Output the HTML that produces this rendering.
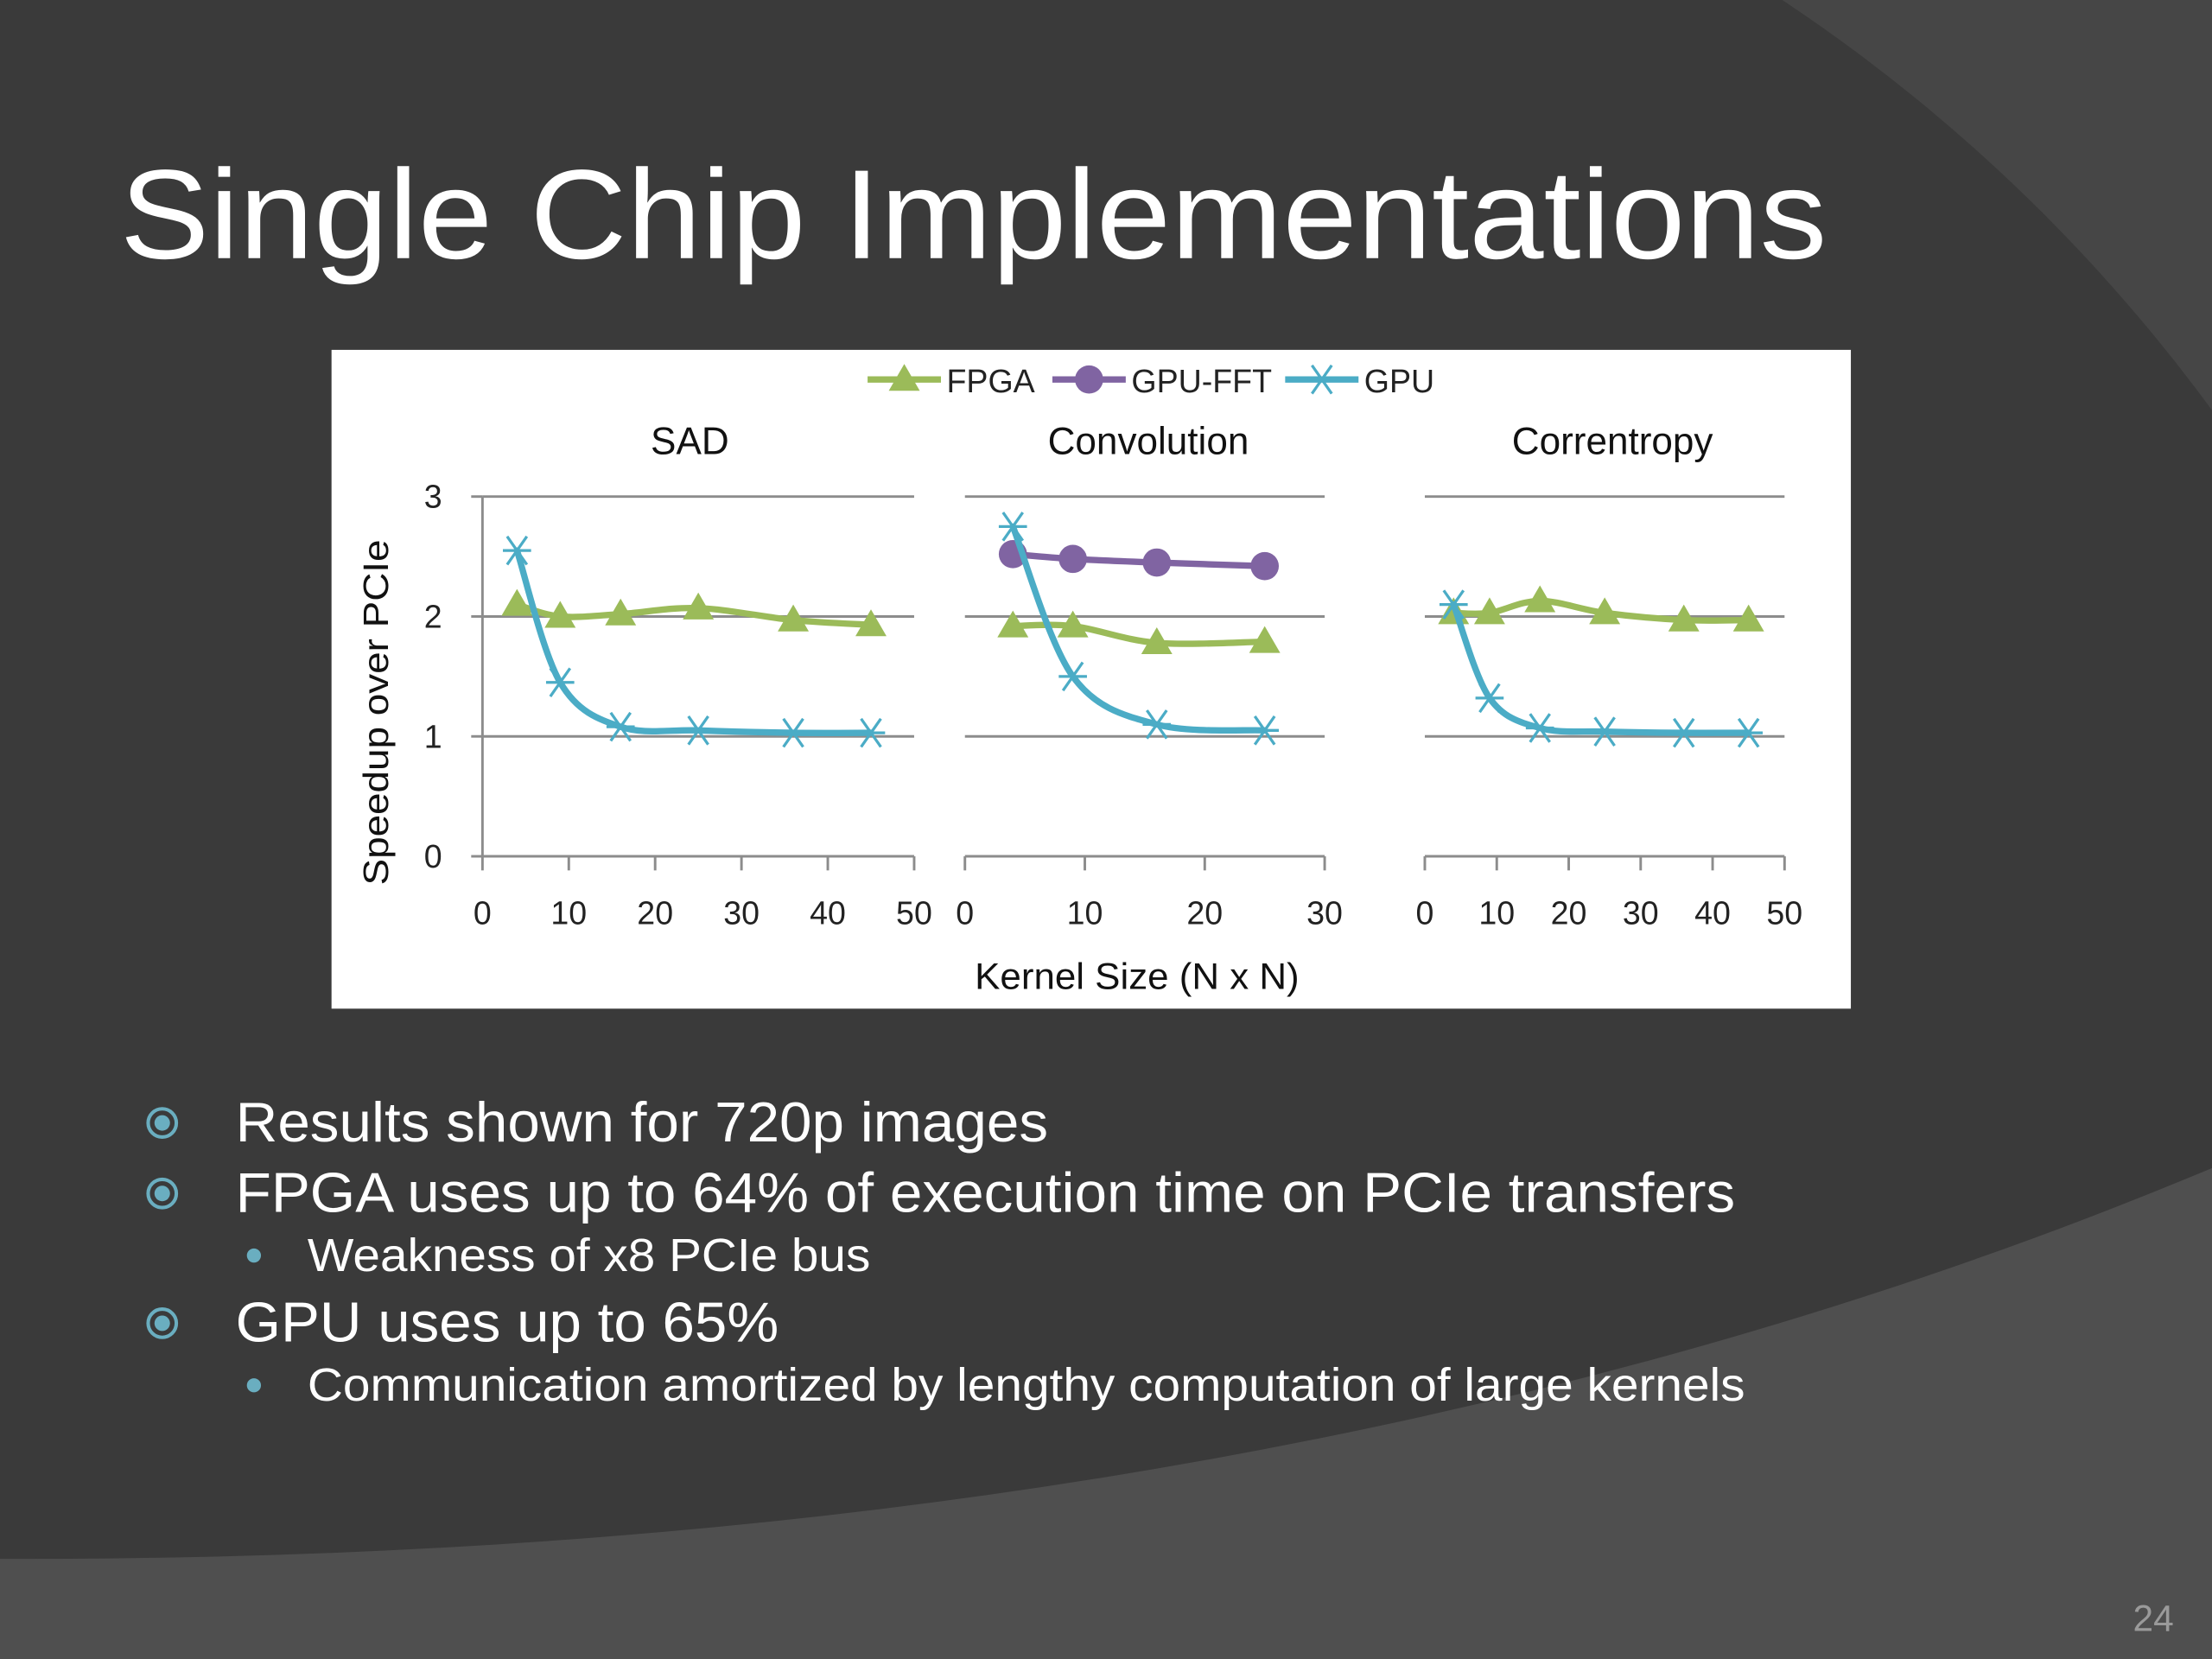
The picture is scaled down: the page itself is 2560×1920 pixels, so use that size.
<!DOCTYPE html>
<html><head><meta charset="utf-8"><style>
html,body{margin:0;padding:0;background:#3a3a3a;overflow:hidden;width:2560px;height:1920px}
svg{display:block;position:absolute;left:0;top:0}
text{font-family:"Liberation Sans",sans-serif}
</style></head><body>
<svg id="s" width="2560" height="1920" viewBox="0 0 1568 1176" xmlns="http://www.w3.org/2000/svg">
<rect x="0" y="0" width="1568" height="1176" fill="#464646"/>
<circle cx="600" cy="1000" r="1200" fill="#3a3a3a"/>
<path d="M0,1105 Q900,1108 1568,828 L1568,1176 L0,1176 Z" fill="#4f4f4f"/>
<text x="85" y="183" font-size="90" fill="#ffffff" textLength="1210" lengthAdjust="spacingAndGlyphs">Single Chip Implementations</text>
<rect x="235" y="248" width="1077" height="467" fill="#ffffff"/>
<g id="chart"></g>
<g>
 <circle cx="115" cy="796" r="10" fill="none" stroke="#6aaec0" stroke-width="2.5"/><circle cx="115" cy="796" r="5.5" fill="#6aaec0"/>
 <text x="167" y="809" font-size="40" fill="#fff" textLength="576" lengthAdjust="spacingAndGlyphs">Results shown for 720p images</text>
 <circle cx="115" cy="846" r="10" fill="none" stroke="#6aaec0" stroke-width="2.5"/><circle cx="115" cy="846" r="5.5" fill="#6aaec0"/>
 <text x="167" y="859" font-size="40" fill="#fff" textLength="1063" lengthAdjust="spacingAndGlyphs">FPGA uses up to 64% of execution time on PCIe transfers</text>
 <circle cx="180" cy="890" r="5" fill="#6aaec0"/>
 <text x="218" y="901" font-size="33" fill="#fff" textLength="399" lengthAdjust="spacingAndGlyphs">Weakness of x8 PCIe bus</text>
 <circle cx="115" cy="938" r="10" fill="none" stroke="#6aaec0" stroke-width="2.5"/><circle cx="115" cy="938" r="5.5" fill="#6aaec0"/>
 <text x="167" y="951" font-size="40" fill="#fff" textLength="385" lengthAdjust="spacingAndGlyphs">GPU uses up to 65%</text>
 <circle cx="180" cy="982" r="5" fill="#6aaec0"/>
 <text x="218" y="993" font-size="33" fill="#fff" textLength="1019" lengthAdjust="spacingAndGlyphs">Communication amortized by lengthy computation of large kernels</text>
</g>
<text x="1512" y="1156" font-size="26" fill="#9a9a9a">24</text>
</svg>
<script>
const panelTitles=["SAD","Convolution","Correntropy"];
const panelXMax=[50,30,50];
const sadX=[4,9,16,25,36,45];
const sadFPGA=[2.1,2.0,2.02,2.07,1.97,1.93];
const sadGPU=[2.55,1.45,1.08,1.05,1.03,1.03];
const convX=[4,9,16,25];
const convFFT=[2.52,2.48,2.45,2.42];
const convFPGA=[1.92,1.92,1.78,1.79];
const convGPU=[2.75,1.5,1.1,1.05];
const corrX=[4,9,16,25,36,45];
const corrFPGA=[2.03,2.03,2.13,2.03,1.97,1.97];
const corrGPU=[2.1,1.32,1.07,1.04,1.03,1.03];
const yTicks=[0,1,2,3];
const xTicksA=[0,10,20,30,40,50];
const xTicksB=[0,10,20,30];

const NS="http://www.w3.org/2000/svg";
const g=document.getElementById('chart');
function mk(t,a,p){const e=document.createElementNS(NS,t);for(const k in a)e.setAttribute(k,a[k]);(p||g).appendChild(e);return e;}
const Y0=607,Y3=352;
const yS=v=>Y0+(Y3-Y0)*v/3;
const panels=[{x0:342,x1:648,tx:489},{x0:684,x1:939,tx:814},{x0:1010,x1:1265,tx:1143}];
const GREEN="#9bbb59",PURPLE="#8064a2",BLUE="#4bacc6";
function smooth(pts){let d=`M${pts[0][0]},${pts[0][1]}`;for(let i=0;i<pts.length-1;i++){const p0=pts[Math.max(i-1,0)],p1=pts[i],p2=pts[i+1],p3=pts[Math.min(i+2,pts.length-1)];const c1=[p1[0]+(p2[0]-p0[0])/6,p1[1]+(p2[1]-p0[1])/6],c2=[p2[0]-(p3[0]-p1[0])/6,p2[1]-(p3[1]-p1[1])/6];d+=` C${c1[0]},${c1[1]} ${c2[0]},${c2[1]} ${p2[0]},${p2[1]}`;}return d;}
function marker(kind,x,y,col){
 if(kind==='tri'){const m=mk('path',{d:`M${x},${y-11} L${x+11},${y+8} L${x-11},${y+8} Z`,fill:col});}
 else if(kind==='dot'){const m=mk('circle',{cx:x,cy:y,r:10,fill:col});}
 else {const m=mk('path',{d:`M${x-10},${y} H${x+10} M${x-7},${y-10} L${x+7},${y+10} M${x+7},${y-10} L${x-7},${y+10}`,stroke:col,'stroke-width':2,fill:'none'});}
}
function series(xs,ys,xf,col,kind,name){
 const pts=xs.map((x,i)=>[xf(x),yS(ys[i])]);
 const p=mk('path',{d:smooth(pts),stroke:col,'stroke-width':4.5,fill:'none','stroke-linecap':'round'});
 
 
 pts.forEach(q=>marker(kind,q[0],q[1],col));
}
const data=[[{x:sadX,y:sadFPGA,c:GREEN,k:'tri',n:'sad-fpga-line'},{x:sadX,y:sadGPU,c:BLUE,k:'star',n:'sad-gpu-line'}],
 [{x:convX,y:convFFT,c:PURPLE,k:'dot',n:'conv-gpu-fft-line'},{x:convX,y:convFPGA,c:GREEN,k:'tri',n:'conv-fpga-line'},{x:convX,y:convGPU,c:BLUE,k:'star',n:'conv-gpu-line'}],
 [{x:corrX,y:corrFPGA,c:GREEN,k:'tri',n:'corr-fpga-line'},{x:corrX,y:corrGPU,c:BLUE,k:'star',n:'corr-gpu-line'}]];
panels.forEach((P,pi)=>{
 const xm=panelXMax[pi];const xf=v=>P.x0+(P.x1-P.x0)*v/xm;
 yTicks.forEach(t=>{if(t>0){const l=mk('line',{x1:P.x0,x2:P.x1,y1:yS(t),y2:yS(t),stroke:'#8c8c8c','stroke-width':1.8});}});
 const ax=mk('line',{x1:P.x0,x2:P.x1,y1:Y0,y2:Y0,stroke:'#8c8c8c','stroke-width':1.8});
 const ticks=xm===30?xTicksB:xTicksA;
 ticks.forEach(t=>{mk('line',{x1:xf(t),x2:xf(t),y1:Y0,y2:Y0+10,stroke:'#8c8c8c','stroke-width':1.8});
  const tx=mk('text',{x:xf(t),y:655,'font-size':23,'text-anchor':'middle',fill:'#222'});tx.textContent=t;});
 const tt=mk('text',{x:P.tx,y:322,'font-size':27,'text-anchor':'middle',fill:'#111'});tt.textContent=panelTitles[pi];
 data[pi].forEach(s=>series(s.x,s.y,xf,s.c,s.k,s.n));
});
const ya=mk('line',{x1:342,x2:342,y1:352,y2:607,stroke:'#8c8c8c','stroke-width':1.8});
yTicks.forEach(t=>{mk('line',{x1:334,x2:342,y1:yS(t),y2:yS(t),stroke:'#8c8c8c','stroke-width':1.8});const tx=mk('text',{x:307,y:yS(t)+8,'font-size':23,'text-anchor':'middle',fill:'#222'});tx.textContent=t;});
const yt=mk('text',{x:0,y:0,'font-size':25,'text-anchor':'middle',fill:'#111',transform:'translate(275,505) rotate(-90)',textLength:245,lengthAdjust:'spacingAndGlyphs'});yt.textContent='Speedup over PCIe';
const xt=mk('text',{x:806,y:701,'font-size':26,'text-anchor':'middle',fill:'#111',textLength:230,lengthAdjust:'spacingAndGlyphs'});xt.textContent='Kernel Size (N x N)';
const leg=[{l:'FPGA',c:GREEN,k:'tri',x:615},{l:'GPU-FFT',c:PURPLE,k:'dot',x:746},{l:'GPU',c:BLUE,k:'star',x:911}];
leg.forEach(e=>{const gg=mk('g',{});
 mk('line',{x1:e.x,x2:e.x+52,y1:269,y2:269,stroke:e.c,'stroke-width':4.5},gg);
 marker(e.k,e.x+26,269,e.c);
 const t=mk('text',{x:e.x+56,y:278,'font-size':23,fill:'#222'},gg);t.textContent=e.l;});
</script>
</body></html>
